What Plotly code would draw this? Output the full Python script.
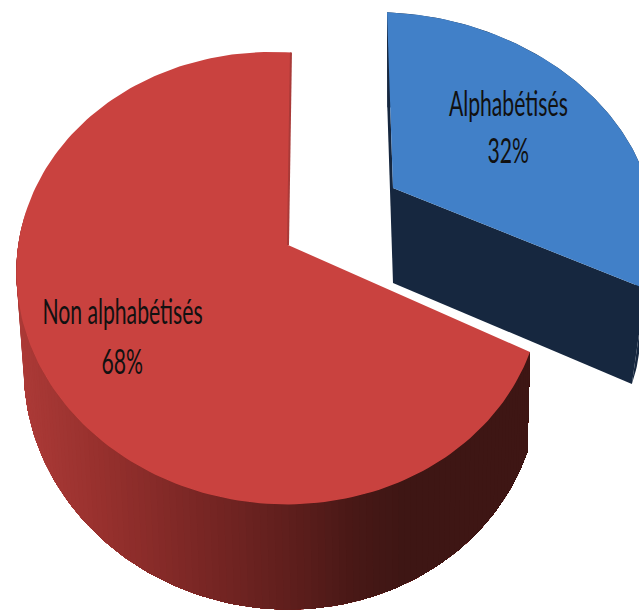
import numpy as np
import plotly.graph_objects as go

categories = ["Non alphabétisés", "Alphabétisés"]
values = [68, 32]
percent_labels = ["68%", "32%"]

W, H = 639, 611
TOP_COLORS = ["#C9423F", "#4180C8"]
DARK_BLUE = "#16273F"
SLIVER_RED = "#A93A38"

# projection of each flat pie slice onto the page (apex, linear part, perspective)
VIEW_RED = dict(apex=(288, 245), a=259.7, b=3.4, c=10.1, d=-221, m=0.031, k=0.148)
VIEW_BLUE = dict(apex=(393, 188), a=258, b=-6.9, c=9.4, d=-202, m=0.0, k=0.15)


def project(view, theta):
    X, Y = np.cos(theta), np.sin(theta)
    w = 1 + view["m"] * X + view["k"] * Y
    return (view["apex"][0] + (view["a"] * X + view["b"] * Y) / w,
            view["apex"][1] + (view["c"] * X + view["d"] * Y) / w)


def extrude_red(x, y):
    return x - 0.02 * (np.asarray(x) - 390), np.asarray(y) + 100 + (np.asarray(y) - 352) * 0.033


def extrude_blue(x, y):
    return x - 0.054 * (np.asarray(x) - 393), np.asarray(y) + 95


def side_color(x):
    xs = [17, 100, 200, 300, 350, 400, 640]
    r = [172, 150, 120, 90, 72, 62, 62]
    g = [58, 48, 38, 29, 24, 22, 22]
    b = [55, 45, 36, 27, 22, 20, 20]
    return f"rgb({np.interp(x, xs, r):.0f},{np.interp(x, xs, g):.0f},{np.interp(x, xs, b):.0f})"


def poly(fig, x, y, color):
    fig.add_trace(go.Scatter(x=list(x), y=list(y), mode="lines", fill="toself", fillcolor=color,
                             line=dict(color=color, width=0), hoverinfo="skip", showlegend=False))


total = sum(values)
sweep_red = 2 * np.pi * values[0] / total
sweep_blue = 2 * np.pi * values[1] / total
start = np.pi / 2

fig = go.Figure()

# blue slice (clockwise from the top)
t_blue = np.linspace(start, start - sweep_blue, 120)
bx, by = project(VIEW_BLUE, t_blue)
ax0, ay0 = VIEW_BLUE["apex"]
abx, aby = extrude_blue(ax0, ay0)
ebx, eby = extrude_blue(bx, by)
poly(fig, [bx[0], ebx[0], abx, ax0], [by[0], eby[0], aby, ay0], DARK_BLUE)
poly(fig, np.r_[bx, ebx[::-1]], np.r_[by, eby[::-1]], DARK_BLUE)
poly(fig, [ax0, bx[-1], ebx[-1], abx], [ay0, by[-1], eby[-1], aby], DARK_BLUE)
poly(fig, np.r_[ax0, bx, ax0], np.r_[ay0, by, ay0], TOP_COLORS[1])

# red slice (counter-clockwise from the top); each band repaints everything still to its right
t_red = np.linspace(start, start + sweep_red, 181)
rx, ry = project(VIEW_RED, t_red)
erx, ery = extrude_red(rx, ry)
first = int(np.argmax(np.sin(t_red) < 0.1))
for i in range(first, len(rx) - 1):
    poly(fig, np.r_[rx[i:], erx[i:][::-1]], np.r_[ry[i:], ery[i:][::-1]], side_color(rx[i]))
ax1, ay1 = VIEW_RED["apex"]
poly(fig, np.r_[ax1, rx, ax1], np.r_[ay1, ry, ay1], TOP_COLORS[0])
fig.add_trace(go.Scatter(x=[rx[0], ax1], y=[ry[0], ay1], mode="lines", line=dict(color=SLIVER_RED, width=2),
                         hoverinfo="skip", showlegend=False))

# labels
label_pos = [(122.5, 310, 360), (508.5, 102, 149)]
for cat, pct, (x, y1, y2) in zip(categories, percent_labels, label_pos):
    for txt, y in ((cat, y1), (pct, y2)):
        fig.add_annotation(x=x, y=y, text=txt, showarrow=False, xanchor="center", yanchor="middle",
                           font=dict(family="Lato", size=35, color="#111111"))

fig.update_layout(width=W, height=H, margin=dict(l=0, r=0, t=0, b=0), paper_bgcolor="white",
                  plot_bgcolor="white", showlegend=False,
                  xaxis=dict(range=[0, W], visible=False, fixedrange=True),
                  yaxis=dict(range=[H, 0], visible=False, fixedrange=True))

# the reference's labels are horizontally condensed
squeeze = """
document.body.style.margin='0';
document.querySelectorAll('.annotation-text').forEach(function(t){
  var b=t.getBBox(), c=b.x+b.width/2;
  t.setAttribute('transform','translate('+c+' 0) scale(0.605 1) translate('+(-c)+' 0)');
});
"""
fig.write_html("out.html", post_script=squeeze, config={"displayModeBar": False})
